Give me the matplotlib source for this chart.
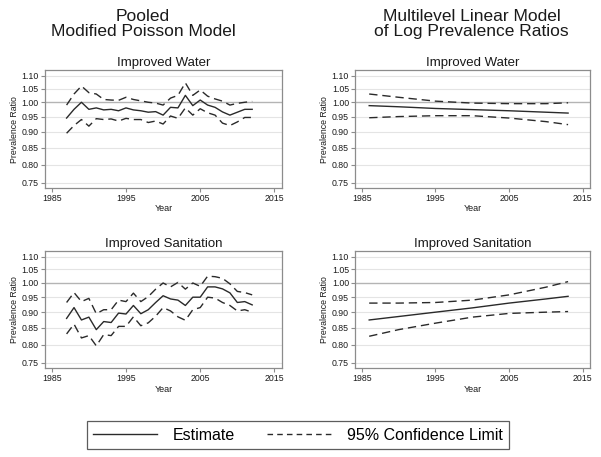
import matplotlib
matplotlib.use("Agg")
import matplotlib.pyplot as plt
from matplotlib.lines import Line2D
from matplotlib.ticker import FixedLocator, FixedFormatter, NullLocator

plt.rcParams['font.family'] = ['Liberation Sans', 'DejaVu Sans']

# pooled modified Poisson model, yearly estimates
years = list(range(1987, 2013))
water_est = [0.945, 0.975, 1.000, 0.975, 0.980, 0.973, 0.975, 0.970, 0.980, 0.973,
             0.970, 0.965, 0.967, 0.955, 0.982, 0.980, 1.025, 0.988, 1.008, 0.990,
             0.982, 0.966, 0.955, 0.965, 0.975, 0.975]
water_hi = [0.990, 1.030, 1.060, 1.035, 1.030, 1.010, 1.008, 1.007, 1.018, 1.010,
            1.005, 1.000, 0.997, 0.990, 1.015, 1.025, 1.072, 1.025, 1.045, 1.022,
            1.012, 1.004, 0.990, 0.996, 1.000, 1.003]
water_lo = [0.895, 0.920, 0.940, 0.918, 0.943, 0.940, 0.942, 0.935, 0.944, 0.940,
            0.940, 0.930, 0.935, 0.925, 0.952, 0.944, 0.980, 0.955, 0.977, 0.963,
            0.955, 0.928, 0.920, 0.932, 0.947, 0.947]
san_est = [0.880, 0.915, 0.875, 0.884, 0.845, 0.870, 0.867, 0.897, 0.894, 0.922,
           0.895, 0.908, 0.932, 0.955, 0.944, 0.940, 0.922, 0.950, 0.950, 0.986,
           0.986, 0.979, 0.965, 0.932, 0.935, 0.924]
san_hi = [0.932, 0.966, 0.935, 0.946, 0.895, 0.908, 0.908, 0.940, 0.935, 0.964,
          0.935, 0.952, 0.978, 1.000, 0.986, 1.002, 0.978, 1.000, 0.988, 1.025,
          1.023, 1.017, 0.997, 0.970, 0.966, 0.958]
san_lo = [0.832, 0.862, 0.820, 0.827, 0.797, 0.830, 0.827, 0.855, 0.855, 0.885,
          0.857, 0.866, 0.887, 0.915, 0.904, 0.885, 0.874, 0.908, 0.915, 0.950,
          0.947, 0.932, 0.922, 0.904, 0.908, 0.900]

# multilevel linear model of log prevalence ratios
ml_years = [1986, 1990, 1995, 2000, 2005, 2010, 2013]
ml_water_est = [0.988, 0.984, 0.978, 0.974, 0.970, 0.965, 0.962]
ml_water_hi = [1.030, 1.018, 1.004, 0.997, 0.995, 0.995, 0.998]
ml_water_lo = [0.946, 0.950, 0.953, 0.953, 0.945, 0.933, 0.923]
ml_san_est = [0.875, 0.886, 0.900, 0.914, 0.930, 0.944, 0.953]
ml_san_hi = [0.930, 0.930, 0.932, 0.940, 0.958, 0.985, 1.005]
ml_san_lo = [0.825, 0.845, 0.865, 0.884, 0.896, 0.900, 0.902]

yticks = [0.75, 0.80, 0.85, 0.90, 0.95, 1.00, 1.05, 1.10]
xticks = [1985, 1995, 2005, 2015]

fig = plt.figure(figsize=(6.01, 4.57), dpi=100)

panels = [
    ([0.075, 0.589, 0.394, 0.257], "Improved Water", years, water_est, water_lo, water_hi),
    ([0.591, 0.589, 0.391, 0.257], "Improved Water", ml_years, ml_water_est, ml_water_lo, ml_water_hi),
    ([0.075, 0.195, 0.394, 0.255], "Improved Sanitation", years, san_est, san_lo, san_hi),
    ([0.591, 0.195, 0.391, 0.255], "Improved Sanitation", ml_years, ml_san_est, ml_san_lo, ml_san_hi),
]

line_col = '#2a2a2a'
dash = (0, (6, 3.5))

for rect, title, x, est, lo, hi in panels:
    ax = fig.add_axes(rect)
    ax.set_yscale('log')
    ax.set_ylim(0.736, 1.121)
    ax.set_xlim(1984.1, 2016.0)
    ax.yaxis.set_major_locator(FixedLocator(yticks))
    ax.yaxis.set_major_formatter(FixedFormatter(['%.2f' % v for v in yticks]))
    ax.yaxis.set_minor_locator(NullLocator())
    ax.set_xticks(xticks)
    for v in yticks:
        ax.axhline(v, color='#b4b4b4' if v == 1.0 else '#e4e4e4',
                   lw=1.0 if v == 1.0 else 0.8, zorder=1)
    ax.plot(x, est, color=line_col, lw=1.0, zorder=3)
    ax.plot(x, lo, color=line_col, lw=1.0, linestyle=dash, zorder=3)
    ax.plot(x, hi, color=line_col, lw=1.0, linestyle=dash, zorder=3)
    for s in ax.spines.values():
        s.set_color('#8c8c8c')
        s.set_linewidth(0.9)
    ax.tick_params(axis='both', labelsize=6.3, color='#8c8c8c', length=3,
                   width=0.8, pad=1.5, labelcolor='#1a1a1a')
    ax.set_title(title, fontsize=9.5, pad=3, color='#1a1a1a')
    ax.set_ylabel("Prevalence Ratio", fontsize=6.3, labelpad=2, color='#1a1a1a')
    ax.set_xlabel("Year", fontsize=6.5, labelpad=1, color='#1a1a1a')

fig.text(0.238, 0.948, "Pooled\nModified Poisson Model", ha='center', va='center',
         fontsize=12.5, linespacing=1.0, color='#1a1a1a')
fig.text(0.785, 0.948, "Multilevel Linear Model\nof Log Prevalence Ratios", ha='center',
         va='center', fontsize=12.5, linespacing=1.0, color='#1a1a1a')

handles = [Line2D([], [], color=line_col, lw=1.0),
           Line2D([], [], color=line_col, lw=1.0, linestyle=(0, (4, 3)))]
leg = fig.legend(handles, ["Estimate", "95% Confidence Limit"], loc='center',
                 bbox_to_anchor=(0.496, 0.048), ncol=2, fontsize=11.5, frameon=True,
                 fancybox=False, edgecolor='#333333', handlelength=4.0,
                 columnspacing=2.0, borderpad=0.4, handletextpad=1.0)
leg.get_frame().set_linewidth(0.9)

fig.savefig("out.png", dpi=100)
